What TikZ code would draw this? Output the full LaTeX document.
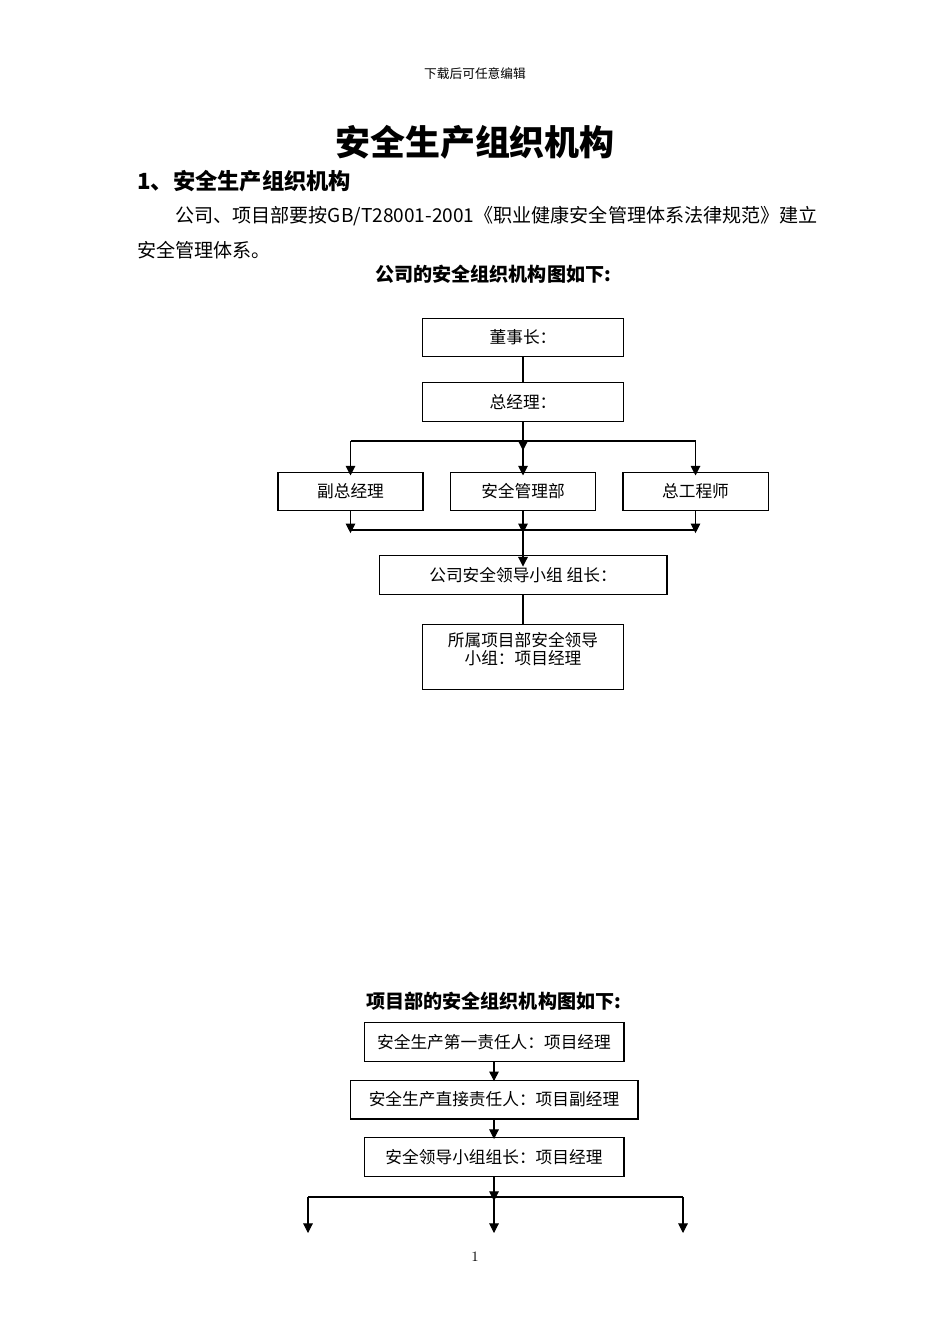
\documentclass[tikz,border=0pt]{standalone}
\usepackage{fontspec}
\newfontfamily\cjk{Noto Sans CJK SC}
\usepackage{tikz}
\usetikzlibrary{arrows.meta,positioning,calc}

\begin{document}
\begin{tikzpicture}[
    x=0.6289pt, y=-0.6289pt,
    txt/.style={inner sep=0pt},
    box/.style={draw, line width=0.65pt, inner sep=0pt, align=center, font=\cjk\fontsize{10.5}{11}\selectfont},
    arrow_edge/.style={-{Triangle[length=6pt,width=6pt]}, line width=0.65pt},
    plain_edge/.style={line width=0.65pt}
]

    % --- Page ---
    \fill[white] (0,0) rectangle (950,1344);

    % --- Texts ---
    \node[txt, font=\cjk\fontsize{8}{9}\selectfont] (header) at (475,74) {下载后可任意编辑};
    \node[txt, font=\cjk\bfseries\fontsize{22}{24}\selectfont] (title) at (475,142) {安全生产组织机构};
    \node[txt, anchor=west, font=\cjk\bfseries\fontsize{14}{16}\selectfont] (heading) at (137,181) {1、安全生产组织机构};
    \node[txt, anchor=west, font=\cjk\fontsize{12}{14}\selectfont] (body1) at (175,216) {公司、项目部要按GB/T28001-2001《职业健康安全管理体系法律规范》建立};
    \node[txt, anchor=west, font=\cjk\fontsize{12}{14}\selectfont] (body2) at (137,250) {安全管理体系。};
    \node[txt, anchor=west, font=\cjk\bfseries\fontsize{12}{14}\selectfont] (cap1) at (375,274) {公司的安全组织机构图如下:};
    \node[txt, anchor=west, font=\cjk\bfseries\fontsize{12}{14}\selectfont] (cap2) at (366,1001) {项目部的安全组织机构图如下:};
    \node[txt, font=\fontsize{9}{10}\selectfont] (pagenum) at (475,1257) {1};

    % --- Nodes: company chart ---
    \node[box, minimum width=127pt, minimum height=24.5pt] (chair) at (523,337.5) {董事长：};
    \node[box, minimum width=127pt, minimum height=24pt] (gm) at (523,402) {总经理：};
    \node[box, minimum width=91.2pt, minimum height=24.5pt] (dgm) at (350.5,491.5) {副总经理};
    \node[box, minimum width=91.2pt, minimum height=24.5pt] (safety) at (523,491.5) {安全管理部};
    \node[box, minimum width=91.2pt, minimum height=24.5pt] (chief) at (695.5,491.5) {总工程师};
    \node[box, minimum width=181.1pt, minimum height=24pt] (leader) at (523,575) {公司安全领导小组 组长：};
    \node[box, minimum width=127pt, minimum height=40.3pt] (projgrp) at (523,657) {所属项目部安全领导\\小组：项目经理\\\mbox{}};

    \coordinate (bus1_l) at (350.5,441);
    \coordinate (bus1_m) at (523,441);
    \coordinate (bus1_r) at (695.5,441);
    \coordinate (bus2_l) at (350.5,530);
    \coordinate (bus2_m) at (523,530);
    \coordinate (bus2_r) at (695.5,530);

    % --- Nodes: project chart ---
    \node[box, minimum width=163.5pt, minimum height=24pt] (p1) at (494,1042) {安全生产第一责任人：项目经理};
    \node[box, minimum width=181.1pt, minimum height=24.5pt] (p2) at (494,1099.5) {安全生产直接责任人：项目副经理};
    \node[box, minimum width=163.5pt, minimum height=24pt] (p3) at (494,1157) {安全领导小组组长：项目经理};

    \coordinate (bus3_l) at (308,1197);
    \coordinate (bus3_m) at (494,1197);
    \coordinate (bus3_r) at (683,1197);
    \coordinate (end_l) at (308,1233);
    \coordinate (end_m) at (494,1233);
    \coordinate (end_r) at (683,1233);

    % --- Edges: company chart ---
    \draw[plain_edge] (chair) -- (gm);
    \draw[arrow_edge] (gm) -- ([yshift=-2.5pt]safety.north);
    \draw[arrow_edge] (gm) -- ([yshift=-6pt]bus1_m);
    \draw[plain_edge] (bus1_l) -- (bus1_r);
    \draw[arrow_edge] (bus1_l) -- ([yshift=-2.5pt]dgm.north);
    \draw[arrow_edge] (bus1_r) -- ([yshift=-2.5pt]chief.north);

    \draw[plain_edge] (bus2_l) -- (bus2_r);
    \draw[arrow_edge] (dgm) -- ([yshift=-2pt]bus2_l);
    \draw[arrow_edge] (safety) -- ([yshift=-2pt]bus2_m);
    \draw[arrow_edge] (chief) -- ([yshift=-2pt]bus2_r);
    \draw[arrow_edge] (bus2_m) -- ([yshift=-7pt]leader.north);
    \draw[plain_edge] (leader) -- (projgrp);

    % --- Edges: project chart ---
    \draw[arrow_edge] (p1) -- ([yshift=-1pt]p2.north);
    \draw[arrow_edge] (p2) -- ([yshift=-1pt]p3.north);
    \draw[arrow_edge] (p3) -- ([yshift=-2.5pt]bus3_m);
    \draw[arrow_edge] (bus3_m) -- (end_m);
    \draw[plain_edge] (bus3_l) -- (bus3_r);
    \draw[arrow_edge] (bus3_l) -- (end_l);
    \draw[arrow_edge] (bus3_r) -- (end_r);

\end{tikzpicture}
\end{document}
